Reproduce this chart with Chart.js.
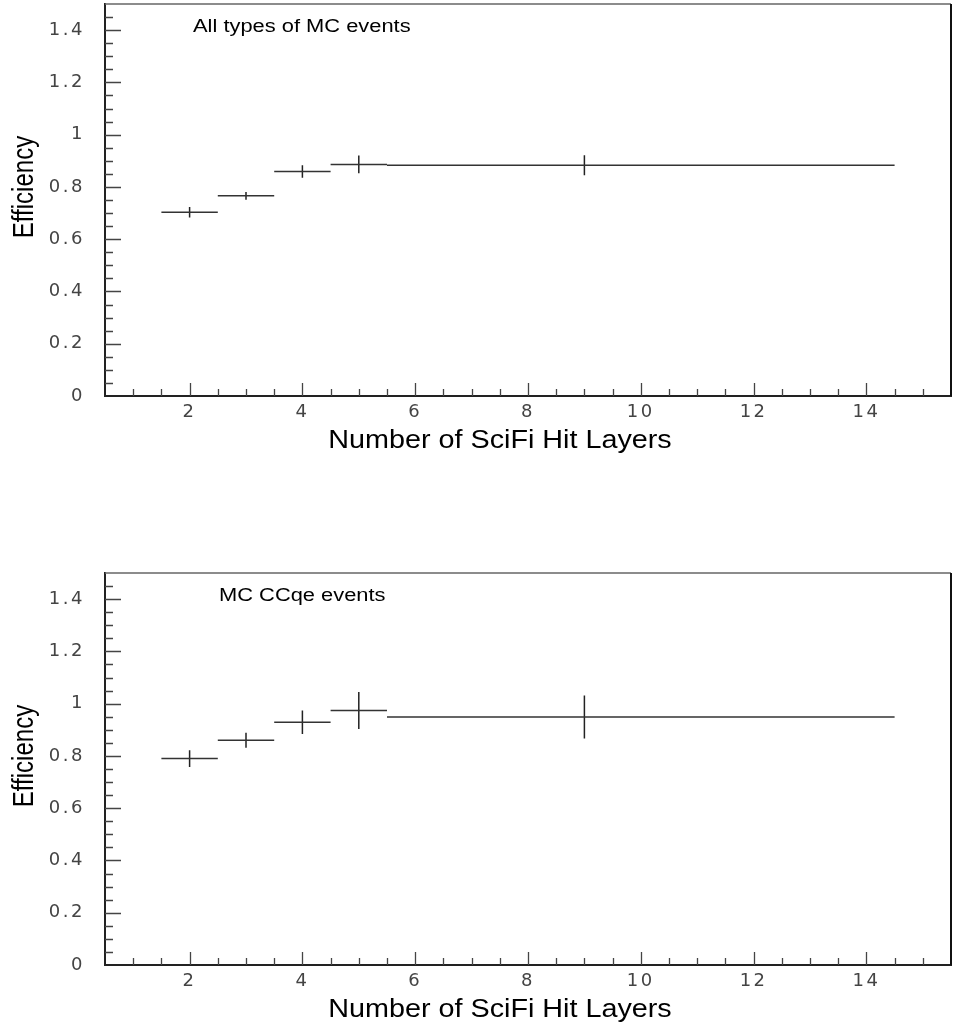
<!DOCTYPE html>
<html>
<head>
<meta charset="utf-8">
<script src="https://cdn.jsdelivr.net/npm/chart.js@4.4.0/dist/chart.umd.min.js"></script>
<style>
  body { margin: 0; background: #fff; }
  canvas { position: absolute; left: 0; }
  #chartAll  { top: 0; }
  #chartCCqe { top: 569px; }
</style>
</head>
<body>
<canvas id="chartAll" width="953" height="500"></canvas>
<canvas id="chartCCqe" width="953" height="456"></canvas>
<script>
// bins in number of SciFi hit layers (last bin is the wide 6-14 one)
const binLow    = [1.5, 2.5, 3.5, 4.5, 5.5];
const binHigh   = [2.5, 3.5, 4.5, 5.5, 14.5];
const binCenter = [2, 3, 4, 5, 9];

const effAll  = [0.703, 0.766, 0.859, 0.886, 0.883];
const errAll  = [0.020, 0.015, 0.024, 0.034, 0.038];
const effCCqe = [0.790, 0.860, 0.929, 0.974, 0.949];
const errCCqe = [0.032, 0.029, 0.045, 0.071, 0.082];

const xTicks      = [2, 4, 6, 8, 10, 12, 14];
const yTicks      = [0, 0.2, 0.4, 0.6, 0.8, 1, 1.2, 1.4];
const yTickLabels = ['0', '0.2', '0.4', '0.6', '0.8', '1', '1.2', '1.4'];

function binSegments(eff) {
    const pts = [];
    eff.forEach((v, i) => {
        pts.push({ x: binLow[i], y: v }, { x: binHigh[i], y: v }, { x: binHigh[i], y: null });
    });
    return pts;
}

function errorSegments(eff, err) {
    const pts = [];
    eff.forEach((v, i) => {
        pts.push({ x: binCenter[i], y: v - err[i] }, { x: binCenter[i], y: v + err[i] }, { x: binCenter[i], y: null });
    });
    return pts;
}

// frame, inward ticks and the PAW-style texts
const framePlugin = {
    id: 'frame',
    beforeDraw(chart) {
        chart.ctx.letterSpacing = '2.5px';
    },
    afterDraw(chart, args, opts) {
        const { ctx, chartArea: a, scales: { x, y } } = chart;
        ctx.save();
        ctx.letterSpacing = '0px';

        ctx.strokeStyle = '#666';
        ctx.lineWidth = 1.5;
        ctx.beginPath(); ctx.moveTo(a.left, a.top); ctx.lineTo(a.right, a.top); ctx.stroke();
        ctx.strokeStyle = '#111';
        ctx.lineWidth = 2;
        ctx.beginPath(); ctx.moveTo(a.right, a.top); ctx.lineTo(a.right, a.bottom); ctx.stroke();

        ctx.strokeStyle = '#444';
        ctx.lineWidth = 1.3;
        ctx.beginPath();
        for (let i = 1; i * 0.05 < y.max - 1e-9; i++) {
            const py = Math.round(y.getPixelForValue(i * 0.05)) + 0.5;
            const len = i % 4 === 0 ? 16 : 8;
            ctx.moveTo(a.left, py); ctx.lineTo(a.left + len, py);
        }
        for (let i = 2; i / 2 < x.max; i++) {
            const px = Math.round(x.getPixelForValue(i / 2)) + 0.5;
            const len = i % 4 === 0 ? 13 : 7;
            ctx.moveTo(px, a.bottom); ctx.lineTo(px, a.bottom - len);
        }
        ctx.stroke();

        ctx.fillStyle = '#000';
        ctx.textBaseline = 'alphabetic';

        // label inside the frame
        ctx.save();
        ctx.font = '17.5px "Liberation Sans", Arial, sans-serif';
        ctx.textAlign = 'left';
        ctx.translate(opts.noteX, opts.noteY);
        ctx.scale(1.25, 1);
        ctx.fillText(opts.note, 0, 0);
        ctx.restore();

        // x title
        ctx.save();
        ctx.font = '25px "Liberation Sans", Arial, sans-serif';
        ctx.textAlign = 'center';
        ctx.translate(500, 448);
        ctx.scale(1.15, 1);
        ctx.fillText('Number of SciFi Hit Layers', 0, 0);
        ctx.restore();

        // y title
        ctx.save();
        ctx.font = '24px "Liberation Sans", Arial, sans-serif';
        ctx.textAlign = 'center';
        ctx.translate(33, 187);
        ctx.rotate(-Math.PI / 2);
        ctx.scale(1, 1.2);
        ctx.fillText('Efficiency', 0, 0);
        ctx.restore();

        ctx.restore();
    },
};

function renderPanel(canvasId, eff, err, note, noteX) {
    const canvas = document.getElementById(canvasId);
    const xHeight = canvas.height - 396;

    return new Chart(canvas, {
        type: 'line',
        data: {
            datasets: [
                {
                    data:        binSegments(eff),
                    borderColor: '#333',
                    borderWidth: 1.5,
                    pointRadius: 0,
                    spanGaps:    false,
                },
                {
                    data:        errorSegments(eff, err),
                    borderColor: '#222',
                    borderWidth: 1.5,
                    pointRadius: 0,
                    spanGaps:    false,
                },
            ],
        },
        options: {
            responsive: false,
            animation:  false,
            events:     [],
            layout: { padding: { top: 4, right: 2, left: 0, bottom: 0 } },
            plugins: {
                legend:  { display: false },
                tooltip: { enabled: false },
                frame:   { note: note, noteX: noteX, noteY: 31.5 },
            },
            scales: {
                x: {
                    type: 'linear',
                    min:  0.5,
                    max:  15.5,
                    afterBuildTicks: s => { s.ticks = xTicks.map(v => ({ value: v })); },
                    afterFit: s => { s.height = xHeight; s.paddingLeft = 0; s.paddingRight = 0; },
                    grid:   { display: true, drawOnChartArea: false, drawTicks: false },
                    border: { display: true, color: '#222', width: 2 },
                    ticks:  {
                        padding: 6,
                        color:   '#444',
                        font:    { family: '"DejaVu Sans", sans-serif', size: 18 },
                        maxRotation: 0,
                        autoSkip: false,
                    },
                },
                y: {
                    type: 'linear',
                    min:  0,
                    max:  1.5,
                    afterBuildTicks: s => { s.ticks = yTicks.map(v => ({ value: v })); },
                    afterFit: s => { s.width = 105; s.paddingTop = 0; s.paddingBottom = 0; },
                    grid:   { display: true, drawOnChartArea: false, drawTicks: false },
                    border: { display: true, color: '#222', width: 2 },
                    ticks:  {
                        padding: 20,
                        color:   '#444',
                        font:    { family: '"DejaVu Sans", sans-serif', size: 18 },
                        callback: (v, i) => yTickLabels[i],
                        autoSkip: false,
                    },
                },
            },
        },
        plugins: [framePlugin],
    });
}

renderPanel('chartAll',  effAll,  errAll,  'All types of MC events', 193);
renderPanel('chartCCqe', effCCqe, errCCqe, 'MC CCqe events', 219);
</script>
</body>
</html>
